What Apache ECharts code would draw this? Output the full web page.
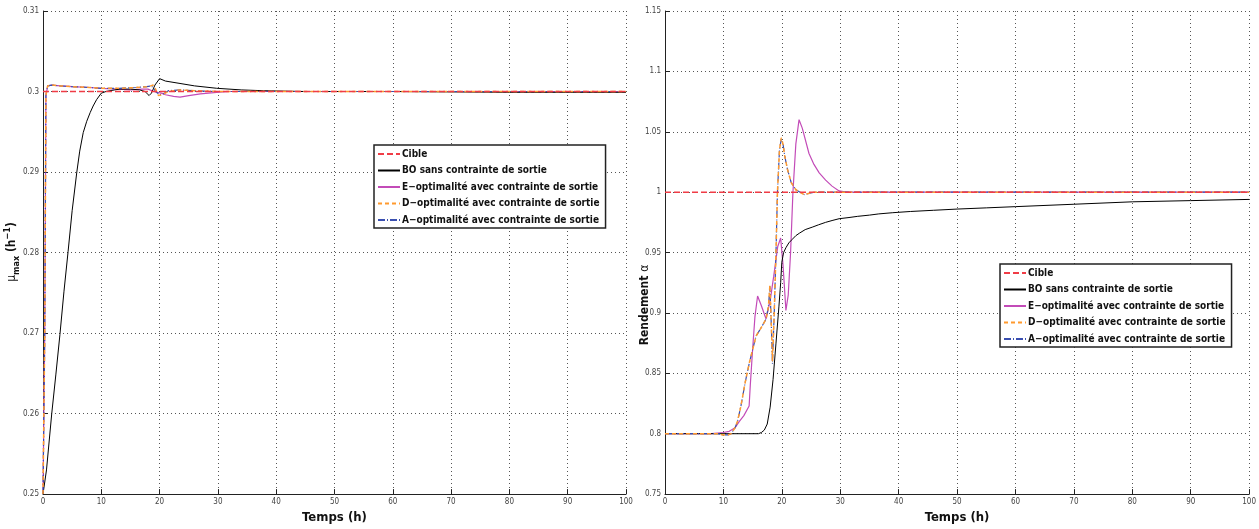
<!DOCTYPE html>
<html><head><meta charset="utf-8">
<script src="https://cdn.jsdelivr.net/npm/echarts@6/dist/echarts.min.js"></script>
<style>html,body{margin:0;padding:0;background:#fff}#c{width:1259px;height:529px}</style>
</head><body><div id="c"></div>
<script>
// ---------- DATA ----------
const names = ['Cible','BO sans contrainte de sortie','E\u2212optimalité avec contrainte de sortie','D\u2212optimalité avec contrainte de sortie','A\u2212optimalité avec contrainte de sortie'];
const xTicks = [0,10,20,30,40,50,60,70,80,90,100];

// Left chart: mu_max (h^-1)
const cibleL_t = [0,100];
const cibleL_v = [0.3,0.3];
const boL_t = [0,0.6,1.5,2.2,2.9,3.6,4.3,5.0,5.8,6.3,6.9,7.5,8.1,8.6,9.2,10,10.8,11.5,12.3,13.2,15,16.6,17.5,18.2,18.6,19.2,20,21,23.5,26,29.8,34,37.8,45,60,80,100];
const boL_v = [0.25,0.253,0.260,0.2648,0.2698,0.2752,0.2801,0.2852,0.2900,0.2926,0.2949,0.2963,0.2974,0.2982,0.2990,0.2998,0.3000,0.3001,0.3002,0.3003,0.3003,0.3002,0.3000,0.2995,0.2998,0.3008,0.3016,0.3013,0.3010,0.3007,0.3004,0.3002,0.3001,0.3000,0.3000,0.2999,0.2999];
const eL_t = [0,0.3,0.5,0.8,1.5,3,5,8,10,13,15,17,18,19,20.3,21,22.4,23.5,25,27,29.8,32,40,100];
const eL_v = [0.25,0.27,0.2995,0.3007,0.3008,0.3007,0.3006,0.3005,0.3004,0.3003,0.3002,0.3003,0.3003,0.3000,0.2998,0.2996,0.2994,0.2993,0.2995,0.2997,0.2999,0.3000,0.3000,0.3000];
const dL_t = [0,0.3,0.5,0.8,1.5,3,5,8,10,13,16,17.8,18.5,18.9,19.3,19.8,20.5,21.5,23.5,26,30,100];
const dL_v = [0.25,0.27,0.2995,0.3007,0.3008,0.3007,0.3006,0.3005,0.3004,0.3004,0.3005,0.3006,0.3007,0.3008,0.3003,0.2995,0.2996,0.3000,0.3002,0.3001,0.3000,0.3000];
const aL_t = [0,0.3,0.5,0.8,1.5,3,5,8,10,13,16,17.8,18.5,18.9,19.3,20,20.6,21.5,23.5,26,30,100];
const aL_v = [0.25,0.27,0.2995,0.3007,0.3008,0.3007,0.3006,0.3005,0.3004,0.3004,0.3005,0.3006,0.3007,0.3005,0.3000,0.2996,0.2997,0.3001,0.3002,0.3001,0.3000,0.3000];

// Right chart: Rendement alpha
const cibleR_t = [0,100];
const cibleR_v = [1,1];
const boR_t = [0,16,16.5,17,17.5,18,18.5,19,19.5,19.8,20,20.3,20.7,21.2,21.8,22.4,23,24,25.2,26.3,27.5,28.6,29.8,31.5,33,35,36.6,39,42,46,50,55,60,70,80,90,100];
const boR_v = [0.8,0.8,0.801,0.803,0.808,0.822,0.845,0.875,0.905,0.925,0.942,0.950,0.954,0.958,0.961,0.964,0.966,0.969,0.971,0.973,0.975,0.9765,0.978,0.979,0.980,0.981,0.982,0.983,0.984,0.985,0.986,0.987,0.988,0.990,0.992,0.993,0.994];
const eR_t = [0,8,10,11,12,12.7,13.5,14.4,14.6,15.0,15.4,15.85,16.5,17.3,18,18.6,19.3,19.8,20.2,20.7,21.1,21.5,21.9,22.4,22.95,23.5,24.65,25.5,26.4,27.5,28.6,29.8,31,100];
const eR_v = [0.8,0.8,0.801,0.802,0.805,0.810,0.815,0.823,0.840,0.870,0.897,0.914,0.906,0.895,0.910,0.930,0.955,0.962,0.940,0.902,0.915,0.950,1.000,1.040,1.060,1.053,1.032,1.023,1.016,1.010,1.005,1.001,1.000,1.000];
const dR_t = [0,9,10,10.8,11.3,12,12.4,13,13.75,14.5,15.6,16.5,17.3,17.7,17.96,18.2,18.4,18.7,19.0,19.25,19.6,19.9,20.2,20.5,20.96,21.6,22.4,23.8,25.5,100];
const dR_v = [0.8,0.8,0.799,0.799,0.8,0.805,0.810,0.823,0.843,0.860,0.881,0.888,0.895,0.905,0.923,0.890,0.860,0.900,0.950,1.000,1.035,1.045,1.040,1.030,1.019,1.008,1.002,0.998,1.000,1.000];
const aR_t = dR_t;
const aR_v = [0.8,0.8,0.799,0.799,0.8,0.805,0.810,0.823,0.843,0.860,0.881,0.888,0.895,0.905,0.922,0.890,0.858,0.900,0.950,1.000,1.035,1.044,1.040,1.030,1.019,1.008,1.002,0.998,1.000,1.000];

// ---------- CHART ----------
const zip = (t, v) => t.map((x, i) => [x, v[i]]);
const FONT = "'Liberation Sans Narrow','DejaVu Sans Condensed','Liberation Sans',sans-serif";
const styles = [
  {color:'#f03c46', width:1.5, type:[6,3], z:6},
  {color:'#000000', width:1, type:'solid', z:3},
  {color:'#c34bb8', width:1.2, type:'solid', z:2},
  {color:'#ff9a2e', width:1.5, type:[4,3], z:5},
  {color:'#3a4fb0', width:1.2, type:[7,2,1,2], z:4}
];
function mk(name, idx, t, v, gi) {
  const s = styles[idx];
  return {type:'line', name, xAxisIndex:gi, yAxisIndex:gi, data:zip(t,v), symbol:'none',
    lineStyle:{color:s.color, width:s.width, type:s.type}, itemStyle:{color:s.color}, z:s.z, silent:true};
}
const series = [
  mk(names[0],0,cibleL_t,cibleL_v,0), mk(names[1],1,boL_t,boL_v,0), mk(names[2],2,eL_t,eL_v,0), mk(names[3],3,dL_t,dL_v,0), mk(names[4],4,aL_t,aL_v,0),
  mk(names[0],0,cibleR_t,cibleR_v,1), mk(names[1],1,boR_t,boR_v,1), mk(names[2],2,eR_t,eR_v,1), mk(names[3],3,dR_t,dR_v,1), mk(names[4],4,aR_t,aR_v,1)
];
const grid = {color:'#555', type:[1,3], width:1};
function xAx(gi) {
  return {type:'value', gridIndex:gi, min:0, max:100, interval:10,
    name:'Temps (h)', nameLocation:'middle', nameGap:12,
    nameTextStyle:{fontFamily:FONT, fontWeight:'bold', fontSize:13, color:'#111'},
    axisLine:{lineStyle:{color:'#222', width:1}}, axisTick:{inside:true, length:5, lineStyle:{color:'#222'}},
    axisLabel:{fontFamily:FONT, fontSize:8, color:'#444', margin:4},
    splitLine:{show:true, lineStyle:grid}};
}
function yAx(gi, min, max, iv) {
  return {type:'value', gridIndex:gi, min, max, interval:iv,
    axisLine:{show:true, lineStyle:{color:'#222', width:1}}, axisTick:{show:true, inside:true, length:5, lineStyle:{color:'#222'}},
    axisLabel:{fontFamily:FONT, fontSize:8, color:'#444', margin:4, formatter:v => String(+v.toFixed(2))},
    splitLine:{show:true, lineStyle:grid}};
}
function leg(left, top) {
  return {orient:'vertical', left, top, data:names, itemWidth:22, itemHeight:12, itemGap:6.5,
    padding:[4,6,3,3], borderColor:'#222', borderWidth:1.5, backgroundColor:'#fff', itemStyle:{opacity:0},
    textStyle:{fontFamily:FONT, fontWeight:'bold', fontSize:10, color:'#111', padding:[0,0,0,-3]}, selectedMode:false};
}
const chart = echarts.init(document.getElementById('c'), null, {renderer:'canvas'});
chart.setOption({
  animation:false, backgroundColor:'#fff',
  grid:[{left:43, right:633, top:11, bottom:32}, {left:665, right:7, top:11, bottom:32}],
  xAxis:[xAx(0), xAx(1)],
  yAxis:[yAx(0,0.25,0.31,0.01), yAx(1,0.75,1.15,0.05)],
  legend:[leg(374,145), leg(1000,264)],
  series,
  graphic:[
    {type:'text', x:12, y:252, rotation:Math.PI/2, style:{
      text:'{g|μ}{s|max}{b| (h}{p|\u22121}{b|)}', align:'center', verticalAlign:'middle',
      rich:{g:{fontFamily:FONT, fontSize:12, fill:'#111', lineHeight:18, verticalAlign:'middle'},
            b:{fontFamily:FONT, fontSize:12, fontWeight:'bold', fill:'#111', lineHeight:18, verticalAlign:'middle'},
            s:{fontFamily:FONT, fontSize:9, fontWeight:'bold', fill:'#111', lineHeight:18, verticalAlign:'bottom'},
            p:{fontFamily:FONT, fontSize:9, fontWeight:'bold', fill:'#111', lineHeight:18, verticalAlign:'top'}}}},
    {type:'text', x:645, y:305, rotation:Math.PI/2, style:{
      text:'{b|Rendement }{g|α}', align:'center', verticalAlign:'middle',
      rich:{b:{fontFamily:FONT, fontSize:12, fontWeight:'bold', fill:'#111'},
            g:{fontFamily:FONT, fontSize:12, fill:'#111'}}}}
  ]
});
</script></body></html>
